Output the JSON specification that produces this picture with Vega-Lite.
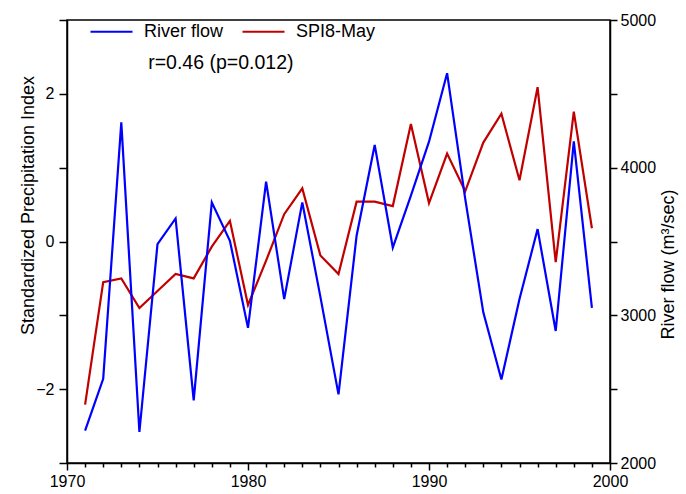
{
  "$schema": "https://vega.github.io/schema/vega-lite/v6.json",
  "width": 543,
  "height": 443,
  "autosize": {"type": "none"},
  "padding": {"left": 67, "top": 20, "right": 76, "bottom": 31},
  "background": "white",
  "config": {
    "font": "Liberation Sans",
    "view": {"stroke": "black", "strokeWidth": 1.5},
    "axis": {
      "domainColor": "black", "domainWidth": 1.5,
      "tickColor": "black", "tickWidth": 1.5,
      "labelColor": "black", "titleColor": "black",
      "labelFont": "Liberation Sans", "titleFont": "Liberation Sans",
      "labelFontSize": 16, "titleFontSize": 18, "titleFontWeight": "normal",
      "grid": false, "labelOverlap": false, "labelFlush": false
    }
  },
  "data": {
    "values": [
      {"year": 1971, "spi": -2.21, "flow": 2220},
      {"year": 1972, "spi": -0.55, "flow": 2570},
      {"year": 1973, "spi": -0.50, "flow": 4307},
      {"year": 1974, "spi": -0.90, "flow": 2210},
      {"year": 1975, "spi": -0.67, "flow": 3482},
      {"year": 1976, "spi": -0.44, "flow": 3656},
      {"year": 1977, "spi": -0.50, "flow": 2424},
      {"year": 1978, "spi": -0.07, "flow": 3765},
      {"year": 1979, "spi": 0.28, "flow": 3505},
      {"year": 1980, "spi": -0.86, "flow": 2915},
      {"year": 1981, "spi": -0.26, "flow": 3905},
      {"year": 1982, "spi": 0.37, "flow": 3110},
      {"year": 1983, "spi": 0.72, "flow": 3765},
      {"year": 1984, "spi": -0.19, "flow": 3125},
      {"year": 1985, "spi": -0.44, "flow": 2465},
      {"year": 1986, "spi": 0.54, "flow": 3539},
      {"year": 1987, "spi": 0.54, "flow": 4154},
      {"year": 1988, "spi": 0.48, "flow": 3459},
      {"year": 1989, "spi": 1.59, "flow": 3810},
      {"year": 1990, "spi": 0.52, "flow": 4176},
      {"year": 1991, "spi": 1.19, "flow": 4640},
      {"year": 1992, "spi": 0.68, "flow": 3790},
      {"year": 1993, "spi": 1.34, "flow": 3020},
      {"year": 1994, "spi": 1.73, "flow": 2566},
      {"year": 1995, "spi": 0.83, "flow": 3110},
      {"year": 1996, "spi": 2.09, "flow": 3584},
      {"year": 1997, "spi": -0.28, "flow": 2894},
      {"year": 1998, "spi": 1.76, "flow": 4178},
      {"year": 1999, "spi": 0.18, "flow": 3050}
    ]
  },
  "encoding": {
    "x": {
      "field": "year", "type": "quantitative",
      "scale": {"domain": [1970, 2000], "nice": false, "zero": false},
      "axis": {
        "title": null,
        "values": [1970,1971,1972,1973,1974,1975,1976,1977,1978,1979,1980,1981,1982,1983,1984,1985,1986,1987,1988,1989,1990,1991,1992,1993,1994,1995,1996,1997,1998,1999,2000],
        "format": "d",
        "labelExpr": "datum.value % 10 === 0 ? datum.label : ''",
        "labelOverlap": false,
        "labelFlush": false,
        "labelBound": false,
        "tickSize": {"condition": {"test": "datum.value % 10 === 0", "value": 7}, "value": 4},
        "labelPadding": 3
      }
    }
  },
  "layer": [
    {
      "layer": [
        {
          "mark": {"type": "line", "strokeWidth": 2.2},
          "encoding": {
            "y": {
              "field": "spi", "type": "quantitative",
              "scale": {"domain": [-3, 3], "nice": false, "zero": false},
              "axis": {
                "title": "Standardized Precipitation Index",
                "values": [-3, -2, -1, 0, 1, 2, 3],
                "format": "d",
                "labelExpr": "datum.value % 2 === 0 ? datum.label : ''",
                "labelOverlap": false,
                "tickSize": 8,
                "labelPadding": 5,
                "titlePadding": -2,
                "titleY": 185
              }
            },
            "color": {
              "datum": "SPI8-May", "type": "nominal",
              "scale": {"domain": ["River flow", "SPI8-May"], "range": ["#0000ff", "#c00000"]},
              "legend": {
                "title": null,
                "orient": "none",
                "legendX": 22,
                "legendY": -11,
                "direction": "horizontal",
                "symbolType": "stroke",
                "symbolSize": 1764,
                "symbolStrokeWidth": 2.2,
                "labelFontSize": 18,
                "labelFont": "Liberation Sans",
                "labelColor": "black",
                "labelOffset": 10,
                "columnPadding": 14
              }
            }
          }
        },
        {
          "data": {"values": [{"year": 1978.5, "spi": 2.42, "label": "r=0.46 (p=0.012)"}]},
          "mark": {"type": "text", "fontSize": 19.5, "align": "center", "baseline": "middle", "color": "black", "font": "Liberation Sans"},
          "encoding": {
            "y": {"field": "spi", "type": "quantitative"},
            "text": {"field": "label"}
          }
        }
      ]
    },
    {
      "mark": {"type": "line", "strokeWidth": 2.2},
      "encoding": {
        "y": {
          "field": "flow", "type": "quantitative",
          "scale": {"domain": [2000, 5000], "nice": false, "zero": false},
          "axis": {
            "orient": "right",
            "title": "River flow (m³/sec)",
            "values": [2000, 2500, 3000, 3500, 4000, 4500, 5000],
            "format": "d",
            "labelExpr": "datum.value % 1000 === 0 ? datum.label : ''",
            "labelOverlap": false,
            "tickSize": 7,
            "labelPadding": 3,
            "titlePadding": 22,
            "titleAngle": 270,
            "titleY": 244
          }
        },
        "color": {"datum": "River flow", "type": "nominal"}
      }
    }
  ],
  "resolve": {"scale": {"y": "independent"}}
}
